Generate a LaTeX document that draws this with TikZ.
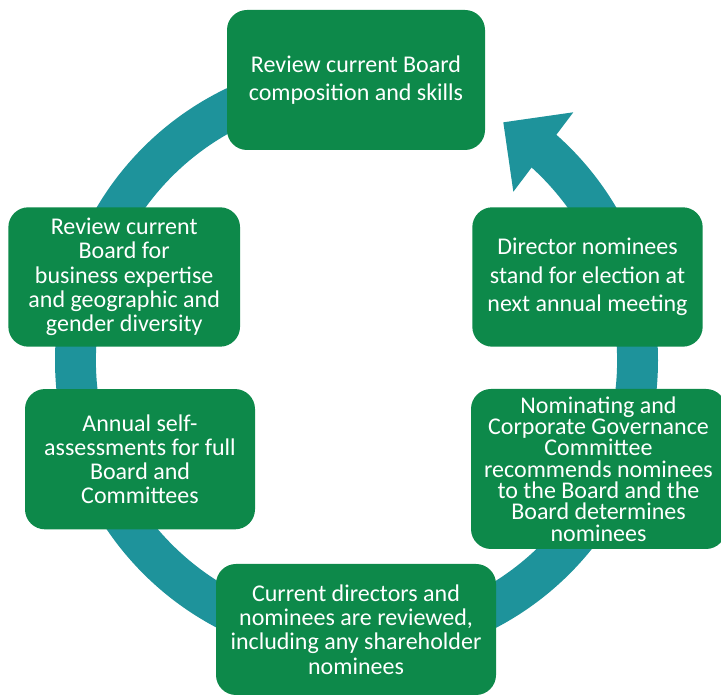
\documentclass[tikz,border=0pt]{standalone}
\usepackage{fontspec}
\setmainfont{Carlito}
\usetikzlibrary{positioning}
\definecolor{bGreen}{RGB}{13,137,74}
\definecolor{bTeal}{RGB}{30,147,155}
\tikzset{
  stage/.style={fill=bGreen, text=white, rounded corners=20pt, align=center, inner sep=4pt,
                font=\fontsize{24}{24.25}\selectfont},
  airy/.style={font=\fontsize{24}{28.5}\selectfont},
  tight/.style={font=\fontsize{24}{21.3}\selectfont},
  band/.style={fill=bTeal},
}

\begin{document}
\begin{tikzpicture}[x=1pt, y=1pt]
    \useasboundingbox (0,0) rectangle (721,698);
    \clip (0,0) rectangle (721,698);
    \coordinate (hub) at (356.5,337.5);
    % the cycle: open under the top box, head at upper right
    \begin{scope}[shift={(hub)}]
      \fill[band] (90:301.5) arc[start angle=90, end angle=409, radius=301.5]
        -- (409:260.6) arc[start angle=409, end angle=90, radius=260.6] -- cycle;
      \fill[band] (48.86:329.6) -- (58.35:279.8) -- (47.1:230.4) -- cycle;
    \end{scope}
    \node[stage, airy, minimum width=258pt, minimum height=140pt] (top) at (356,618)
      {Review current Board\\composition and skills};
    \node[stage, minimum width=231.7pt, minimum height=139.4pt] (lhi) at (124.2,421)
      {Review current\\Board for\\business expertise\\and geographic and\\gender diversity};
    \node[stage, minimum width=230pt, minimum height=140.3pt] (llo) at (140,238.8)
      {Annual self-\\assessments for full\\Board and\\Committees};
    \node[stage, minimum width=280pt, minimum height=131pt] (bot) at (356,68.5)
      {Current directors and\\nominees are reviewed,\\including any shareholder\\nominees};
    \node[stage, tight, minimum width=255pt, minimum height=160pt] (rlo) at (598.5,229)
      {Nominating and\\Corporate Governance\\Committee\\recommends nominees\\to the Board and the\\Board determines\\nominees};
    \node[stage, airy, minimum width=230.4pt, minimum height=139.4pt] (rhi) at (587.5,421)
      {Director nominees\\stand for election at\\next annual meeting};
\end{tikzpicture}
\end{document}
